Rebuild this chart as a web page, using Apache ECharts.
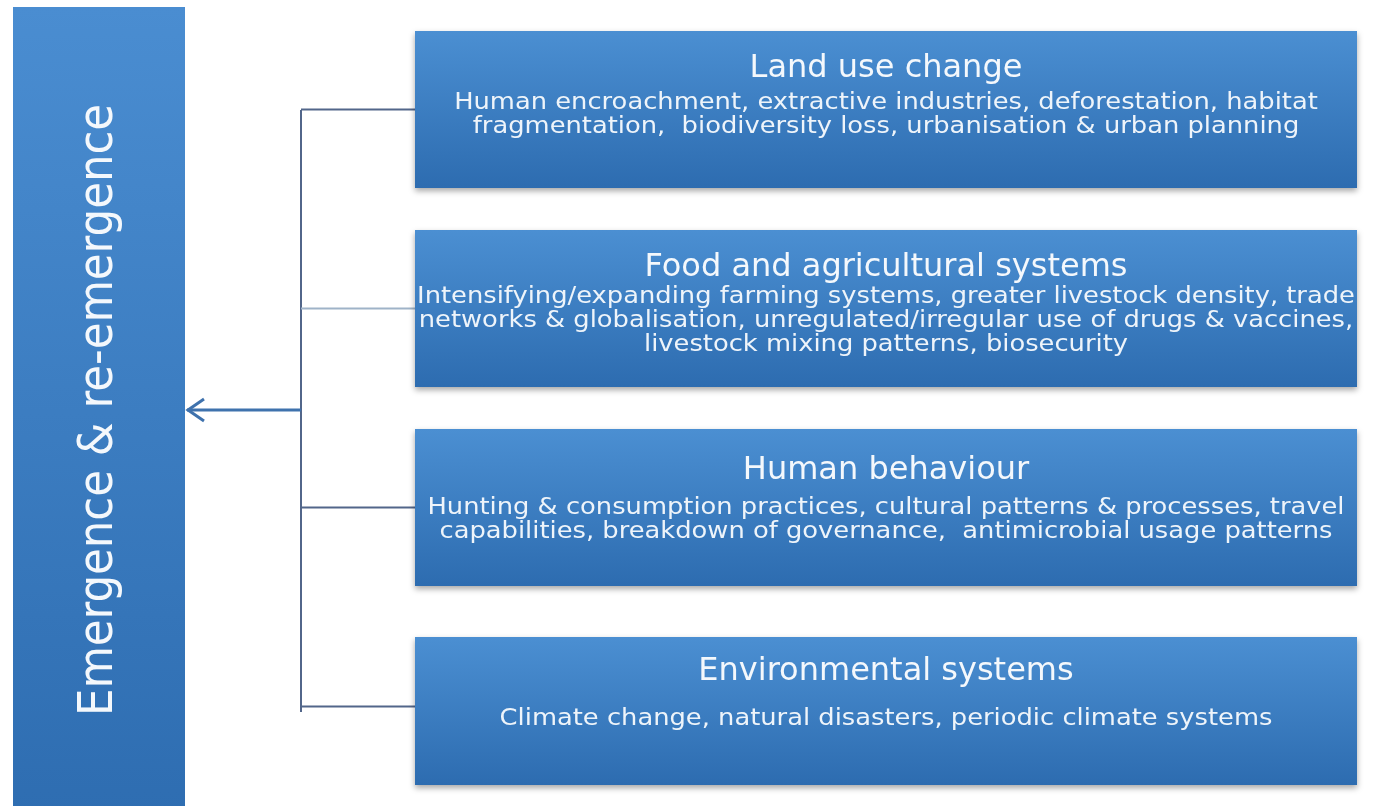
<!DOCTYPE html>
<html>
<head>
<meta charset="utf-8">
<script src="https://cdn.jsdelivr.net/npm/echarts@6/dist/echarts.min.js"></script>
<style>
  html, body { margin: 0; padding: 0; background: #fff; }
  #main { width: 1373px; height: 806px; }
</style>
</head>
<body>
<div id="main"></div>
<script>
(function() {

  var outcome = 'Emergence & re-emergence';

  var drivers = [
    'Land use change',
    'Food and agricultural systems',
    'Human behaviour',
    'Environmental systems'
  ];

  var driverDetails = [
    ['Human encroachment, extractive industries, deforestation, habitat',
     'fragmentation,  biodiversity loss, urbanisation & urban planning'],
    ['Intensifying/expanding farming systems, greater livestock density, trade',
     'networks & globalisation, unregulated/irregular use of drugs & vaccines,',
     'livestock mixing patterns, biosecurity'],
    ['Hunting & consumption practices, cultural patterns & processes, travel',
     'capabilities, breakdown of governance,  antimicrobial usage patterns'],
    ['Climate change, natural disasters, periodic climate systems']
  ];

  // layout tweaks per box (pixels), the source boxes are not perfectly regular
  var topShrink = [0, 0, 0, 9];
  var titleOffset = [38, 38, 42, 35];
  var descOffset = [72, 67, 79, 82];

  var font = 'DejaVu Sans';
  var boxFill = {
    type: 'linear', x: 0, y: 0, x2: 0, y2: 1,
    colorStops: [{ offset: 0, color: '#4b8fd2' }, { offset: 1, color: '#2d6cb0' }]
  };

  var myChart = echarts.init(document.getElementById('main'));

  var trunkX = 301;

  var renderItem = function(params, api) {
    var idx = api.value(0);
    var center = api.coord([0, idx]);
    var right = api.coord([1, idx]);
    var band = api.size([0, 1])[1];
    var h = band * 0.79 - topShrink[idx];
    var top = center[1] - band * 0.395 + topShrink[idx];
    var left = center[0];
    var w = right[0] - left;
    var mid = left + w / 2;
    var lines = driverDetails[idx];

    var children = [{
      type: 'line',
      shape: { x1: trunkX, y1: center[1], x2: left, y2: center[1] },
      style: { stroke: idx === 1 ? '#9fb3c8' : '#52668a', lineWidth: 2 }
    }, {
      type: 'rect',
      shape: { x: left, y: top, width: w, height: h },
      style: {
        fill: boxFill,
        shadowBlur: 6,
        shadowOffsetY: 3,
        shadowColor: 'rgba(0,0,0,0.35)'
      }
    }, {
      type: 'text',
      x: mid, y: top + titleOffset[idx],
      style: {
        x: 0, y: 0,
        text: drivers[idx],
        fill: '#f4f8fc',
        font: '32px "' + font + '"',
        align: 'center', verticalAlign: 'middle'
      }
    }];
    lines.forEach(function(line, i) {
      children.push({
        type: 'text',
        x: mid, y: top + descOffset[idx] + i * 24,
        scaleX: 1.12,
        style: {
          x: 0, y: 0,
          text: line,
          fill: '#eef4fa',
          font: '23px "' + font + '"',
          align: 'center', verticalAlign: 'middle'
        }
      });
    });
    return { type: 'group', children: children };
  };

  var option = {
    animation: false,
    grid: { left: 415, right: 16, top: 10, height: 802 },
    xAxis: { type: 'value', min: 0, max: 1, show: false },
    yAxis: { type: 'category', data: drivers, inverse: true, show: false },
    series: [{
      type: 'custom',
      renderItem: renderItem,
      data: drivers.map(function(d, i) { return [i]; }),
      clip: false
    }],
    graphic: [{
      type: 'rect',
      shape: { x: 13, y: 7, width: 172, height: 810 },
      style: {
        fill: {
          type: 'linear', x: 0, y: 0, x2: 0, y2: 1,
          colorStops: [{ offset: 0, color: '#4a8dd1' }, { offset: 1, color: '#2e6db1' }]
        }
      }
    }, {
      type: 'text',
      x: 100, y: 410,
      rotation: Math.PI / 2,
      scaleX: 0.905,
      style: {
        text: outcome,
        fill: '#f4f8fc',
        font: '48px "' + font + '"',
        align: 'center', verticalAlign: 'middle'
      }
    }, {
      type: 'line',
      shape: { x1: trunkX, y1: 110, x2: trunkX, y2: 712 },
      style: { stroke: '#52668a', lineWidth: 2 }
    }, {
      type: 'line',
      shape: { x1: trunkX, y1: 410, x2: 187, y2: 410 },
      style: { stroke: '#3f72ad', lineWidth: 3 }
    }, {
      type: 'polyline',
      shape: { points: [[204, 399], [188, 410], [204, 421]] },
      style: { stroke: '#3f72ad', lineWidth: 3, fill: null }
    }]
  };

  myChart.setOption(option);

})();
</script>
</body>
</html>
